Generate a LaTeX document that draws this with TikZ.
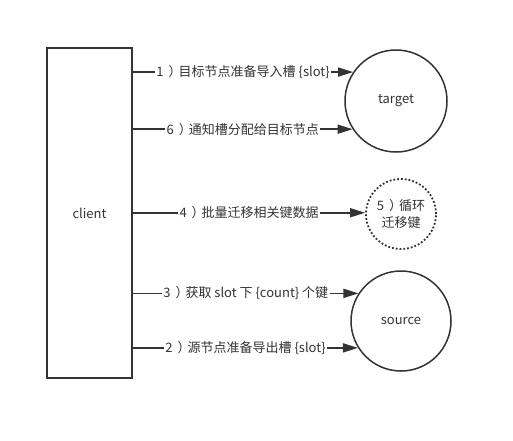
\documentclass[tikz,border=0pt]{standalone}
\usepackage{fontspec}
\setmainfont{Noto Sans CJK SC}
\usetikzlibrary{arrows.meta}
\definecolor{ink}{HTML}{333333}
\newcommand{\rparen}{\hspace{5pt}）\hspace{-3pt}}
\begin{document}
\begin{tikzpicture}[x=1pt,y=-1pt,
  every node/.style={font=\fontsize{13}{15}\selectfont, text=ink},
  clientbox/.style={draw=ink, line width=2.2pt, rectangle, minimum width=85pt, minimum height=330pt, inner sep=0pt},
  bigcirc/.style={draw=ink, line width=1.5pt, circle, inner sep=0pt},
  dotcirc/.style={draw=ink, line width=1.8pt, circle, dotted, inner sep=0pt, minimum size=70pt, align=center, font=\fontsize{13}{17}\selectfont},
  arr/.style={draw=ink, line width=1.6pt, -{Triangle[length=15pt,width=9pt]}},
  lbl/.style={midway, fill=white, inner sep=1.5pt}
]
\useasboundingbox (0,0) rectangle (513,440);
\node[clientbox] (client) at (89.5,213) {client};
\node[bigcirc, minimum size=102pt] (target) at (396,101) {target};
\node[dotcirc] (loop) at (401,214) {5\rparen 循环\\迁移键};
\node[bigcirc, minimum size=100pt] (source) at (401,321) {source};

\draw[arr] (client.east |- target.146.7) -- (target.146.7) node[lbl] {1\rparen 目标节点准备导入槽 \{slot\}};
\draw[arr] (client.east |- target.213.3) -- (target.213.3) node[lbl] {6\rparen 通知槽分配给目标节点};
\draw[arr] (client.east |- loop.178) -- (loop.178) node[lbl] {4\rparen 批量迁移相关键数据};
\draw[arr] (client.east |- source.147.3) -- (source.147.3) node[lbl] {3\rparen 获取 slot 下 \{count\} 个键};
\draw[arr] (client.east |- source.212.7) -- (source.212.7) node[lbl] {2\rparen 源节点准备导出槽 \{slot\}};
\end{tikzpicture}
\end{document}
